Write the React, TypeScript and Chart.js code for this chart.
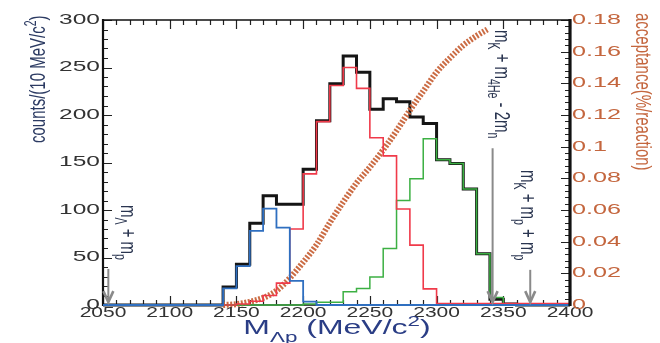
import React, { useEffect, useRef } from "react";
import { Chart, registerables } from "chart.js";

Chart.register(...registerables);

// ---- data (10 MeV/c^2 bins, value = counts in bin starting at binStarts[i]) ----
const binStarts = [
  2050, 2060, 2070, 2080, 2090, 2100, 2110, 2120, 2130, 2140, 2150, 2160,
  2170, 2180, 2190, 2200, 2210, 2220, 2230, 2240, 2250, 2260, 2270, 2280,
  2290, 2300, 2310, 2320, 2330, 2340, 2350, 2360, 2370, 2380, 2390,
];
const binEnd = 2400;

const totalCounts = [
  0, 0, 0, 0, 0, 0, 0, 0, 0, 19, 43, 86,
  115, 106, 106, 143, 194, 233, 262, 245, 206, 217, 214, 198,
  191, 153, 149, 122, 54, 6, 1, 0, 0, 0, 0,
];
const lowComponent = [
  0, 0, 0, 0, 0, 0, 0, 0, 0, 17.5, 41, 78,
  101.5, 81.5, 25.5, 3.5, 0, 0, 0, 0, 0, 0, 0, 0,
  0, 0, 0, 0, 0, 0, 0, 0, 0, 0, 0,
];
const midComponent = [
  0, 0, 0, 0, 0, 0, 0, 0, 0, 0, 1, 4,
  10, 23, 80, 138, 193, 231, 250, 228, 176, 157, 101, 63,
  17, 1.5, 1.5, 1.5, 1.5, 1.5, 1.5, 1.5, 1.5, 1.5, 1.5,
];
const highComponent = [
  0, 0, 0, 0, 0, 0, 0, 0, 0, 0, 0, 0,
  0, 0, 0, 1, 3, 3, 14, 17.5, 29.5, 59.5, 110, 133,
  175, 153, 149, 122, 54, 8, 0, 0, 0, 0, 0,
];

const acceptanceMass = [
  2140, 2150, 2160, 2170, 2180, 2190, 2200, 2210, 2220, 2230, 2240,
  2250, 2260, 2270, 2280, 2290, 2300, 2310, 2320, 2330, 2338,
];
const acceptanceValue = [
  0, 0.0005, 0.002, 0.0045, 0.009, 0.017, 0.027, 0.038, 0.052, 0.065, 0.077,
  0.087, 0.098, 0.11, 0.123, 0.135, 0.147, 0.156, 0.164, 0.17, 0.174,
];

const countTicks = [0, 50, 100, 150, 200, 250, 300];
const massTicks = [2050, 2100, 2150, 2200, 2250, 2300, 2350, 2400];
const acceptanceTicks = [0, 0.02, 0.04, 0.06, 0.08, 0.1, 0.12, 0.14, 0.16, 0.18];
const acceptanceTickLabels = ["0", "0.02", "0.04", "0.06", "0.08", "0.1", "0.12", "0.14", "0.16", "0.18"];

// thresholds (MeV/c^2): mΛ+mp, mK+m4He-2mn, mK+mp+mp
const thresholdMass = [2054.0, 2342.0, 2370.2];

const FONT = "'Liberation Sans', Arial, sans-serif";

type Seg = { t: string; s?: "sub" | "sup" };

function drawRich(
  ctx: CanvasRenderingContext2D,
  segs: Seg[],
  x: number,
  y: number,
  o: {
    size: number;
    color: string;
    stretch: number;
    rot: number;
    align: "left" | "center" | "right";
    baseline?: CanvasTextBaseline;
    subOff?: number;
  }
) {
  ctx.save();
  ctx.translate(x, y);
  ctx.scale(o.stretch, 1);
  ctx.rotate(o.rot);
  ctx.fillStyle = o.color;
  ctx.textBaseline = o.baseline || "alphabetic";
  ctx.textAlign = "left";
  const parts = segs.map((sg) => {
    const sz = sg.s ? o.size * 0.7 : o.size;
    const font = `${sz}px ${FONT}`;
    ctx.font = font;
    return { sg, font, w: ctx.measureText(sg.t).width };
  });
  const total = parts.reduce((a, p) => a + p.w, 0);
  let cx = o.align === "left" ? 0 : o.align === "center" ? -total / 2 : -total;
  for (const p of parts) {
    ctx.font = p.font;
    const dy =
      p.sg.s === "sub" ? o.size * (o.subOff ?? 0.3) : p.sg.s === "sup" ? -o.size * 0.42 : 0;
    ctx.fillText(p.sg.t, cx, dy);
    cx += p.w;
  }
  ctx.restore();
}

function drawArrow(ctx: CanvasRenderingContext2D, x: number, yTop: number, yBot: number) {
  ctx.save();
  ctx.strokeStyle = "#8a8a8a";
  ctx.lineWidth = 2;
  ctx.beginPath();
  ctx.moveTo(x, yTop);
  ctx.lineTo(x, yBot);
  ctx.stroke();
  ctx.lineWidth = 2.6;
  ctx.beginPath();
  ctx.moveTo(x - 5, yBot - 11);
  ctx.lineTo(x, yBot);
  ctx.lineTo(x + 5, yBot - 11);
  ctx.stroke();
  ctx.restore();
}

const framePlugin = {
  id: "frame",
  beforeDatasetsDraw(chart: any) {
    const { ctx, chartArea: a, scales } = chart;
    const xs = scales.x, ys = scales.y, y2 = scales.y2;
    ctx.save();
    ctx.strokeStyle = "#222";
    ctx.lineWidth = 1.2;
    ctx.beginPath();
    for (let v = 0; v <= 300; v += 10) {
      const py = Math.round(ys.getPixelForValue(v)) + 0.5;
      const len = v % 50 === 0 ? 9 : 5;
      ctx.moveTo(a.left, py);
      ctx.lineTo(a.left + len, py);
    }
    for (let m = 2050; m <= 2400; m += 10) {
      const px = Math.round(xs.getPixelForValue(m)) + 0.5;
      const len = m % 50 === 0 ? 9 : 5;
      ctx.moveTo(px, a.bottom);
      ctx.lineTo(px, a.bottom - len);
      ctx.moveTo(px, a.top);
      ctx.lineTo(px, a.top + len);
    }
    for (let k = 0; k <= 45; k++) {
      const py = Math.round(y2.getPixelForValue(k * 0.004)) + 0.5;
      const len = k % 5 === 0 ? 9 : 5;
      ctx.moveTo(a.right, py);
      ctx.lineTo(a.right - len, py);
    }
    ctx.stroke();
    ctx.strokeStyle = "#111";
    ctx.lineWidth = 1.5;
    ctx.beginPath();
    ctx.moveTo(a.left, a.top);
    ctx.lineTo(a.right, a.top);
    ctx.moveTo(a.left, a.bottom);
    ctx.lineTo(a.right, a.bottom);
    ctx.stroke();
    ctx.lineWidth = 2.2;
    ctx.beginPath();
    ctx.moveTo(a.left, a.top - 1);
    ctx.lineTo(a.left, a.bottom + 1);
    ctx.stroke();
    ctx.restore();
  },
  afterDraw(chart: any) {
    const { ctx, chartArea: a, scales } = chart;
    const xs = scales.x, ys = scales.y, y2 = scales.y2;
    // right axis thick line
    ctx.save();
    ctx.strokeStyle = "#111";
    ctx.lineWidth = 3.2;
    ctx.beginPath();
    ctx.moveTo(a.right, a.top - 1);
    ctx.lineTo(a.right, a.bottom + 1);
    ctx.stroke();
    ctx.restore();

    // tick labels
    countTicks.forEach((v) => {
      drawRich(ctx, [{ t: String(v) }], a.left - 3, ys.getPixelForValue(v), {
        size: 14, color: "#333", stretch: 1.75, rot: 0, align: "right", baseline: "middle",
      });
    });
    massTicks.forEach((m) => {
      drawRich(ctx, [{ t: String(m) }], xs.getPixelForValue(m), a.bottom + 8, {
        size: 14, color: "#333", stretch: 1.5, rot: 0, align: "center", baseline: "middle",
      });
    });
    acceptanceTicks.forEach((v, i) => {
      drawRich(ctx, [{ t: acceptanceTickLabels[i] }], a.right + 2, y2.getPixelForValue(v), {
        size: 14, color: "#c4663e", stretch: 1.8, rot: 0, align: "left", baseline: "middle",
      });
    });

    // axis titles
    drawRich(
      ctx,
      [{ t: "counts/(10 MeV/c" }, { t: "2", s: "sup" }, { t: ")" }],
      45, 143,
      { size: 15, color: "#2b3a62", stretch: 1.5, rot: -Math.PI / 2, align: "left" }
    );
    drawRich(
      ctx,
      [{ t: "acceptance(%/reaction)" }],
      636, 13,
      { size: 15, color: "#c4663e", stretch: 1.5, rot: Math.PI / 2, align: "left" }
    );
    drawRich(
      ctx,
      [{ t: "M" }, { t: "Λp", s: "sub" }, { t: " (MeV/c" }, { t: "2", s: "sup" }, { t: ")" }],
      337, 334,
      { size: 20, color: "#2a3d85", stretch: 1.6, rot: 0, align: "center", subOff: 0.4 }
    );

    // threshold annotations
    const annColor = "#2a3550";
    const x1 = xs.getPixelForValue(thresholdMass[0]);
    drawArrow(ctx, x1, ys.getPixelForValue(38), ys.getPixelForValue(3));
    drawRich(
      ctx,
      [{ t: "m" }, { t: "Λ", s: "sub" }, { t: " + m" }, { t: "p", s: "sub" }],
      x1 + 13, 205,
      { size: 15, color: annColor, stretch: 1.5, rot: Math.PI / 2, align: "left" }
    );
    const x2 = xs.getPixelForValue(thresholdMass[1]);
    drawArrow(ctx, x2, ys.getPixelForValue(165), ys.getPixelForValue(3));
    drawRich(
      ctx,
      [
        { t: "m" }, { t: "K", s: "sub" }, { t: " + m" }, { t: "4He", s: "sub" },
        { t: " - 2m" }, { t: "n", s: "sub" },
      ],
      x2 + 2, 30,
      { size: 15, color: annColor, stretch: 1.5, rot: Math.PI / 2, align: "left" }
    );
    const x3 = xs.getPixelForValue(thresholdMass[2]);
    drawArrow(ctx, x3, ys.getPixelForValue(37), ys.getPixelForValue(3));
    drawRich(
      ctx,
      [{ t: "m" }, { t: "K", s: "sub" }, { t: " + m" }, { t: "p", s: "sub" }, { t: " + m" }, { t: "p", s: "sub" }],
      x3 - 9, 170,
      { size: 15, color: annColor, stretch: 1.5, rot: Math.PI / 2, align: "left" }
    );
  },
};

function histPoints(vals: number[]) {
  return binStarts.map((b, i) => ({ x: b, y: vals[i] })).concat([{ x: binEnd, y: 0 }]);
}

export default function App() {
  const ref = useRef<HTMLCanvasElement>(null);
  useEffect(() => {
    if (!ref.current) return;
    const chart = new Chart(ref.current, {
      type: "line",
      data: {
        datasets: [
          {
            label: "low",
            data: histPoints(lowComponent),
            borderColor: "#2f6fc0",
            borderWidth: 1.8,
            stepped: true,
            pointRadius: 0,
            order: 0,
            clip: 4,
          },
          {
            label: "mid",
            data: histPoints(midComponent),
            borderColor: "#f03a4a",
            borderWidth: 1.6,
            stepped: true,
            pointRadius: 0,
            order: 1,
            clip: 4,
          },
          {
            label: "high",
            data: histPoints(highComponent),
            borderColor: "#3cb043",
            borderWidth: 1.5,
            stepped: true,
            pointRadius: 0,
            order: 2,
            clip: 4,
          },
          {
            label: "acceptance",
            data: acceptanceMass.map((m, i) => ({ x: m, y: acceptanceValue[i] })),
            yAxisID: "y2",
            borderColor: "rgba(200,100,58,0.95)",
            borderWidth: 6,
            borderDash: [2, 1.6],
            borderCapStyle: "butt",
            cubicInterpolationMode: "monotone",
            pointRadius: 0,
            order: 3,
            clip: 4,
          },
          {
            label: "total",
            data: histPoints(totalCounts),
            borderColor: "#151515",
            borderWidth: 3,
            stepped: true,
            pointRadius: 0,
            order: 4,
            clip: 4,
          },
        ],
      } as any,
      options: {
        responsive: false,
        animation: false,
        layout: { padding: { left: 103, right: 90, top: 20, bottom: 38 } },
        plugins: { legend: { display: false }, tooltip: { enabled: false } },
        scales: {
          x: { type: "linear", min: 2050, max: 2400, display: false },
          y: { type: "linear", min: 0, max: 300, display: false },
          y2: { type: "linear", min: 0, max: 0.18, display: false, position: "right" },
        },
      },
      plugins: [framePlugin],
    } as any);
    return () => chart.destroy();
  }, []);
  return (
    <div style={{ position: "fixed", left: 0, top: 0, width: 660, height: 343, background: "#fff" }}>
      <canvas ref={ref} width={660} height={343} style={{ display: "block" }} />
    </div>
  );
}
